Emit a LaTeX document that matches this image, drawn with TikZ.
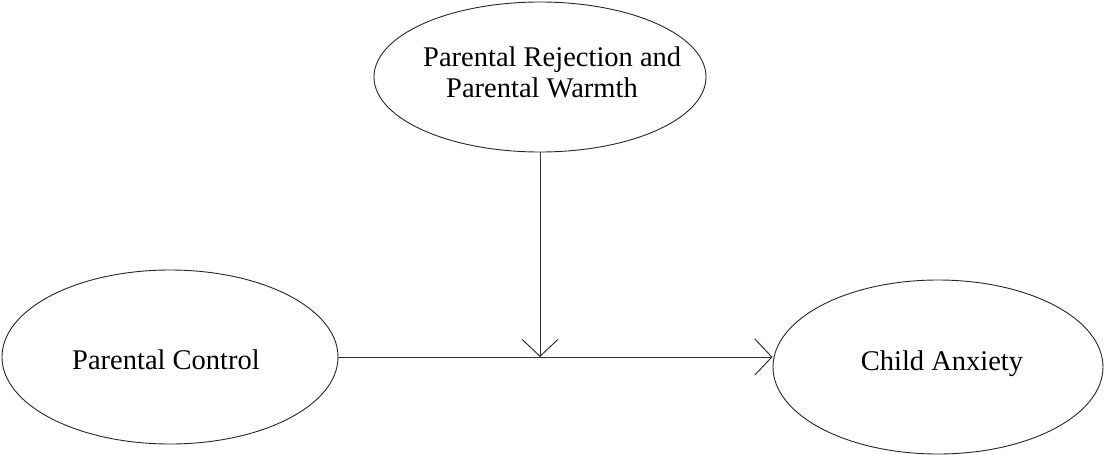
\documentclass[tikz,border=0pt]{standalone}
\usepackage{fontspec}
\setmainfont{Liberation Serif}
\usetikzlibrary{
    arrows.meta,
    shapes.geometric,
    positioning
}

\begin{document}
\begin{tikzpicture}[x=1pt, y=-1pt,
    blob/.style={ellipse, draw=black!85, line width=0.9pt, inner sep=0pt},
    txt/.style={font=\fontsize{28.5}{31}\selectfont, align=center, inner sep=0pt},
    arr/.style={draw=black!80, line width=1pt, -{Straight Barb[length=17pt, width=36pt, line width=1pt]}}]
                            \useasboundingbox (0, 0) rectangle (1104, 455);
                            \node[blob, minimum width=332pt, minimum height=150pt] (mod) at (540, 77) {};
                            \node[blob, minimum width=336pt, minimum height=174pt] (ctrl) at (170, 357) {};
                            \node[blob, minimum width=330pt, minimum height=174pt] (anx) at (938, 367) {};
                            \node[txt, align=left, anchor=west] (modtxt) at (423, 72) {Parental Rejection and\\\hspace*{23pt}Parental Warmth};
                            \node[txt] (ctrltxt) at (166, 360) {Parental Control};
                            \node[txt] (anxtxt) at (942, 364) {Child Anxiety};
                            \coordinate (join) at (mod.south |- ctrl.east);
                            \coordinate (hit) at (anx.west |- ctrl.east);
                            \draw
                            (ctrl.east) edge[arr] (hit)
                            (mod.south) edge[arr] (join);
                        \end{tikzpicture}
\end{document}
